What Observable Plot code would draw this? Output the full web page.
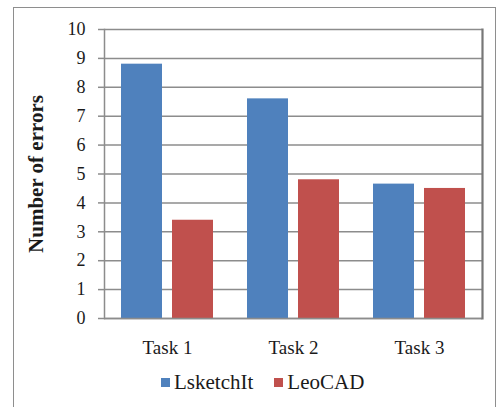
<!DOCTYPE html>
<html>
<head>
<meta charset="utf-8">
<script src="https://cdn.jsdelivr.net/npm/d3@7"></script>
<script src="https://cdn.jsdelivr.net/npm/@observablehq/plot@0.6"></script>
<style>
  html, body { margin: 0; padding: 0; background: #fff; }
  #chart {
    position: relative; width: 498px; height: 407px; overflow: hidden;
    font-family: "Liberation Serif", "Times New Roman", serif; color: #1a1a1a;
  }
  #border {
    position: absolute; left: 13px; top: 7px; width: 483px; height: 440px;
    border: 1.5px solid #8e8e8e; box-sizing: border-box;
  }
  #plot { position: absolute; left: 0; top: 0; }
  #legend {
    position: absolute; left: 161px; top: 371px;
    display: flex; align-items: center; font-size: 21px; line-height: 22px;
  }
  #legend .item { display: flex; align-items: center; margin-right: 21px; }
  #legend .swatch { width: 9px; height: 9px; margin-right: 4px; }
</style>
</head>
<body>
<div id="chart">
  <div id="border"></div>
  <div id="plot"></div>
  <div id="legend"></div>
</div>
<script>
// Mean number of errors per task for each tool
const tasks = ["Task 1", "Task 2", "Task 3"];
const tools = ["LsketchIt", "LeoCAD"];
const lsketchItErrors = [8.8, 7.6, 4.65];
const leoCadErrors = [3.4, 4.8, 4.5];
const yTicks = [0, 1, 2, 3, 4, 5, 6, 7, 8, 9, 10];
const toolColors = ["#4F81BD", "#C0504D"];

const rows = tasks.flatMap((task, i) => [
  {task, tool: tools[0], errors: lsketchItErrors[i]},
  {task, tool: tools[1], errors: leoCadErrors[i]}
]);

const serif = "'Liberation Serif', 'Times New Roman', serif";
const gridColor = "#8c8c8c";

const chart = Plot.plot({
  width: 498,
  height: 372,
  marginLeft: 104,
  marginRight: 16,
  marginTop: 29,
  marginBottom: 54,
  style: {background: "transparent", fontFamily: serif, color: "#1a1a1a"},
  fx: {domain: tasks, padding: 0, label: null},
  x: {domain: tools, paddingInner: 0.192, paddingOuter: 0.308, axis: null},
  y: {domain: [0, 10]},
  color: {domain: tools, range: toolColors},
  marks: [
    Plot.gridY(yTicks, {stroke: gridColor, strokeOpacity: 1, strokeWidth: 1.5}),
    Plot.barY(rows, {fx: "task", x: "tool", y: "errors", fill: "tool"}),
    Plot.ruleY([0], {stroke: gridColor, strokeWidth: 1.5}),
    Plot.frame({anchor: "left", facetAnchor: "left", stroke: gridColor, strokeWidth: 1.5}),
    Plot.frame({anchor: "right", facetAnchor: "right", stroke: "#777", strokeWidth: 2.2}),
    Plot.axisY(yTicks, {tickSize: 6, tickPadding: 13, fontSize: 18, fontFamily: serif, stroke: gridColor, strokeWidth: 1.5, label: null}),
    Plot.axisY({ticks: [], label: "Number of errors", labelAnchor: "center", labelOffset: 76, fontSize: 21, fontFamily: serif, fontWeight: "bold", labelArrow: "none"}),
    Plot.axisFx({anchor: "bottom", tickSize: 0, tickPadding: 22, fontSize: 19, fontFamily: serif, label: null})
  ]
});
document.getElementById("plot").append(chart);

// Legend below the chart
const legend = d3.select("#legend");
tools.forEach((tool, i) => {
  const item = legend.append("div").attr("class", "item");
  item.append("div").attr("class", "swatch").style("background", toolColors[i]);
  item.append("span").text(tool);
});
</script>
</body>
</html>
